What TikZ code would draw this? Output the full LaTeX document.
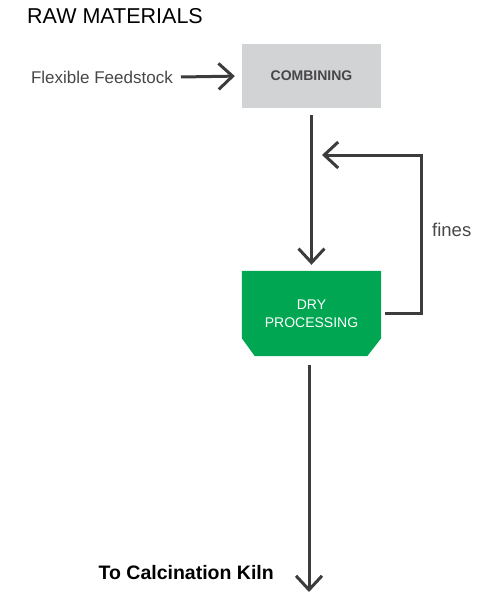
\documentclass[tikz,border=0pt]{standalone}
\usepackage{fontspec}
\setmainfont{Liberation Sans}
\usepackage{xcolor}
\usepackage{tikz}
\usetikzlibrary{positioning, arrows.meta, backgrounds}

\definecolor{linegray}{HTML}{3C3C3C}
\definecolor{boxgray}{HTML}{D1D3D5}
\definecolor{drygreen}{HTML}{00A651}
\definecolor{textgray}{HTML}{474747}

\begin{document}
\begin{tikzpicture}[x=1pt, y=-1pt,
    flow/.style={draw=linegray, line width=3pt,
      -{Straight Barb[length=14pt, width=26pt]}},
    graybox/.style={fill=boxgray, minimum width=139pt, minimum height=64pt,
      inner sep=0pt, text=textgray, font=\fontsize{14}{16}\selectfont\bfseries},
    drybox/.style={minimum width=139pt, minimum height=85pt, inner sep=0pt,
      text=white, align=center, font=\fontsize{14}{18}\selectfont},
    label/.style={text=textgray, inner sep=0pt}]
  \useasboundingbox (0,0) rectangle (493,594);

  % title
  \node[anchor=west, inner sep=0pt, text=black, font=\fontsize{21.5}{24}\selectfont]
    (title) at (27,16) {RAW MATERIALS};

  % stages
  \node[graybox] (comb) at (311.5,76) {COMBINING};
  \node[drybox] (dry) at (311.5,313.5) {DRY\\PROCESSING};
  \begin{scope}[on background layer]
    \fill[drygreen] (dry.north west) -- (dry.north east)
      -- ([yshift=18pt]dry.south east) -- ([xshift=-14pt]dry.south east)
      -- ([xshift=13pt]dry.south west) -- ([yshift=18pt]dry.south west) -- cycle;
  \end{scope}

  % inputs and outputs
  \node[label, anchor=east, font=\fontsize{17}{20}\selectfont] (feed) at (173,77) {Flexible Feedstock};
  \node[label, anchor=west, font=\fontsize{18.5}{20}\selectfont] (fines) at (432,230) {fines};
  \node[anchor=east, inner sep=0pt, text=black, font=\fontsize{19.5}{22}\selectfont\bfseries]
    (kiln) at (274,573) {To Calcination Kiln};
  \coordinate (ret) at (322,155);
  \coordinate (out) at (309,592);

  % connectors
  \draw[flow, shorten >=7pt] ([xshift=8pt]feed.east) -- (comb.west);
  \draw[flow, shorten <=7pt, shorten >=6pt] (comb.south) -- (dry.north);
  \draw[flow] ([xshift=4pt]dry.east) -- ++(36,0) |- (ret);
  \draw[flow] ([yshift=-9pt]dry.south -| out) -- (out);
\end{tikzpicture}
\end{document}
